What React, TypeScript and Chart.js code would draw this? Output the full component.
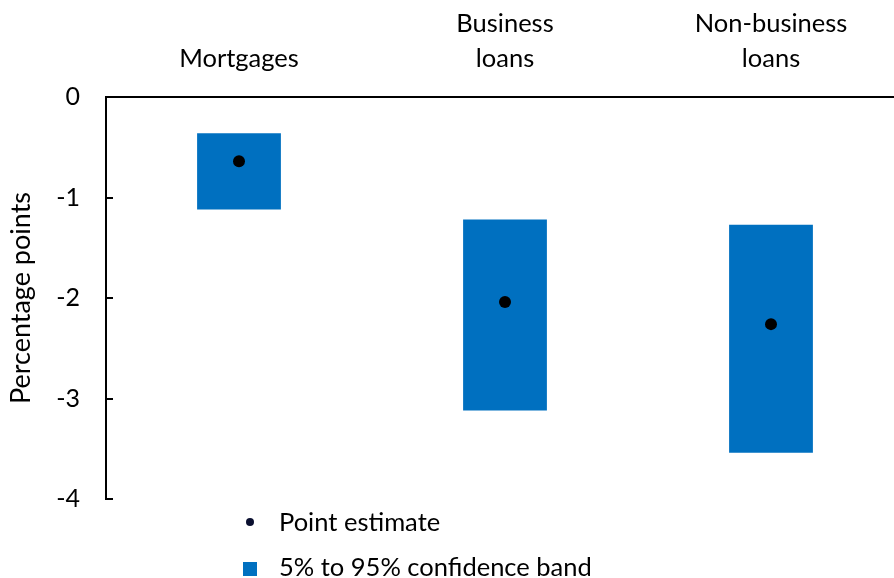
import React, { useEffect, useRef } from "react";
import { Chart, registerables } from "chart.js";

Chart.register(...registerables);

const categories: string[][] = [["Mortgages"], ["Business", "loans"], ["Non-business", "loans"]];
const bandLow = [-1.12, -3.12, -3.54];
const bandHigh = [-0.36, -1.22, -1.27];
const pointEstimate = [-0.64, -2.04, -2.26];
const yMin = -4;
const yMax = 0;
const yStep = 1;
const seriesNames = ["Point estimate", "5% to 95% confidence band"];
const axisTitle = "Percentage points";

const FONT = "Lato, 'Open Sans', sans-serif";
const FS = 25.5;
const BLUE = "#0070C0";

const innerTicks = {
  id: "innerTicks",
  afterDraw(chart: any) {
    const y = chart.scales.y;
    const ctx = chart.ctx;
    const left = chart.chartArea.left;
    ctx.save();
    ctx.strokeStyle = "#000";
    ctx.lineWidth = 2;
    ctx.beginPath();
    y.ticks.forEach((t: any) => {
      if (t.value === 0) return;
      const py = Math.round(y.getPixelForValue(t.value));
      ctx.moveTo(left - 1, py);
      ctx.lineTo(left + 7, py);
    });
    ctx.stroke();
    ctx.restore();
  },
};

const customLegend = {
  id: "customLegend",
  afterDraw(chart: any) {
    const ctx = chart.ctx;
    const ds = chart.data.datasets;
    ctx.save();
    ctx.font = `${FS}px ${FONT}`;
    ctx.fillStyle = "#000";
    ctx.textBaseline = "middle";
    ctx.textAlign = "left";
    const mx = 250;
    const tx = 279;
    const rows = [523, 568];
    // point estimate
    ctx.fillStyle = "#0b1030";
    ctx.beginPath();
    ctx.arc(mx, rows[0] - 1, 4, 0, Math.PI * 2);
    ctx.fill();
    ctx.fillStyle = "#000";
    ctx.fillText(ds[0].label, tx, rows[0]);
    // band
    ctx.fillStyle = ds[1].backgroundColor;
    ctx.fillRect(mx - 7, rows[1] - 6, 14, 14);
    ctx.fillStyle = "#000";
    ctx.fillText(ds[1].label, tx, rows[1]);
    ctx.restore();
  },
};

export default function App() {
  const ref = useRef<HTMLCanvasElement | null>(null);
  useEffect(() => {
    document.body.style.margin = "0";
    if (!ref.current) return;
    const chart = new Chart(ref.current, {
      type: "bar",
      data: {
        labels: categories as any,
        datasets: [
          {
            type: "line",
            label: seriesNames[0],
            data: pointEstimate,
            showLine: false,
            pointRadius: 6,
            pointHoverRadius: 6,
            pointBackgroundColor: "#000",
            pointBorderWidth: 0,
            borderColor: "#000",
            order: 0,
          } as any,
          {
            type: "bar",
            label: seriesNames[1],
            data: bandLow.map((l, i) => [l, bandHigh[i]]),
            backgroundColor: BLUE,
            borderWidth: 0,
            barPercentage: 0.315,
            categoryPercentage: 1,
            order: 1,
          } as any,
        ],
      },
      options: {
        animation: false,
        responsive: false,
        devicePixelRatio: 1,
        layout: { padding: { left: 0, top: 0, right: 4, bottom: 79 } },
        plugins: {
          legend: { display: false },
          tooltip: { enabled: false },
        },
        scales: {
          x: {
            position: "top",
            offset: true,
            grid: { drawOnChartArea: false, drawTicks: false, color: "transparent" },
            border: { display: true, color: "#000", width: 2 },
            ticks: {
              color: "#000",
              font: { family: FONT, size: FS, lineHeight: 1.37 },
              padding: 21,
              maxRotation: 0,
              autoSkip: false,
            },
            afterFit: (s: any) => {
              s.height = 97;
            },
          },
          y: {
            min: yMin,
            max: yMax,
            grid: { drawOnChartArea: false, drawTicks: false, color: "transparent" },
            border: { display: true, color: "#000", width: 2 },
            ticks: {
              stepSize: yStep,
              color: "#000",
              font: { family: FONT, size: 25 },
              padding: 26,
            },
            title: {
              display: true,
              text: axisTitle,
              color: "#000",
              font: { family: FONT, size: 27 },
              padding: { top: 5, bottom: 0 },
            },
            afterFit: (s: any) => {
              s.width = 106;
            },
          },
        },
      },
      plugins: [innerTicks, customLegend],
    });
    return () => chart.destroy();
  }, []);
  return (
    <div style={{ width: 894, height: 578, overflow: "hidden", position: "relative", background: "#fff" }}>
      <canvas ref={ref} width={910} height={578} style={{ width: 910, height: 578, display: "block" }} />
    </div>
  );
}
